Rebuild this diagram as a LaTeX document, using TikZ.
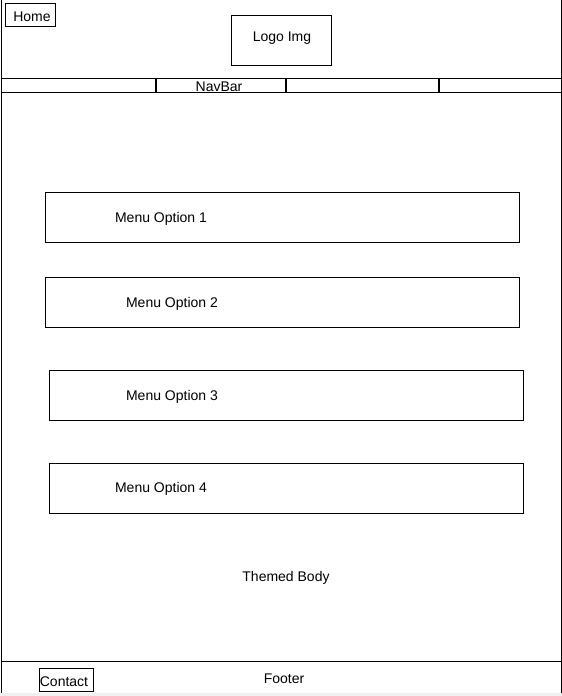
\documentclass[tikz,border=0pt]{standalone}
\usepackage{fontspec}
\setmainfont{Liberation Sans}
\begin{document}
\begin{tikzpicture}[x=1pt,y=-1pt,
  box/.style={draw=black,line width=1pt,inner sep=0pt,anchor=north west},
  lbl/.style={font=\fontsize{14}{16}\selectfont,text=black,inner sep=0pt,yshift=-2pt},
  ln/.style={draw=black,line width=1pt}]
\useasboundingbox (0,0) rectangle (562,696);
\fill[white] (0,0) rectangle (562,696);
\fill[black!6] (0,693) rectangle (562,696);
% outer frame
\coordinate (tl) at (1.5,0);
\coordinate (bl) at (1.5,693);
\coordinate (tr) at (561,0);
\coordinate (br) at (561,693);
\draw[ln] (tl) -- (bl);
\draw[ln] (tr) -- (br);
% header
\node[box,minimum width=50pt,minimum height=23pt] (home) at (5,3) {};
\node[lbl] (homet) at (32,15) {Home};
\node[box,minimum width=100pt,minimum height=50pt] (logo) at (231,15) {};
\node[lbl] (logot) at (282,36) {Logo Img};
% navbar
\coordinate (n1) at (1.5,78); \coordinate (n2) at (561,78);
\coordinate (n3) at (1.5,92); \coordinate (n4) at (561,92);
\draw[ln] (n1) -- (n2);
\draw[ln] (n3) -- (n4);
\foreach \x/\nm in {156/a,286/b,439/c}{
  \coordinate (d\nm1) at (\x,78); \coordinate (d\nm2) at (\x,92);
  \draw[line width=1.6pt] (d\nm1) -- (d\nm2);
}
\node[lbl] (navbar) at (219,84.5) {NavBar};
% menu options
\node[box,minimum width=474pt,minimum height=50pt] (m1) at (45,192) {};
\node[lbl] (t1) at (161,217) {Menu Option 1};
\node[box,minimum width=474pt,minimum height=50pt] (m2) at (45,277) {};
\node[lbl] (t2) at (172,302) {Menu Option 2};
\node[box,minimum width=474pt,minimum height=50pt] (m3) at (49,370) {};
\node[lbl] (t3) at (172,395) {Menu Option 3};
\node[box,minimum width=474pt,minimum height=50pt] (m4) at (49,463) {};
\node[lbl] (t4) at (161,487) {Menu Option 4};
\node[lbl] (body) at (286,576) {Themed Body};
% footer
\coordinate (f1) at (1.5,661); \coordinate (f2) at (561,661);
\draw[ln] (f1) -- (f2);
\node[box,minimum width=54pt,minimum height=23pt] (contact) at (39,668) {};
\node[lbl] (contactt) at (64,680) {Contact};
\node[lbl] (footer) at (284,677) {Footer};
\end{tikzpicture}
\end{document}
